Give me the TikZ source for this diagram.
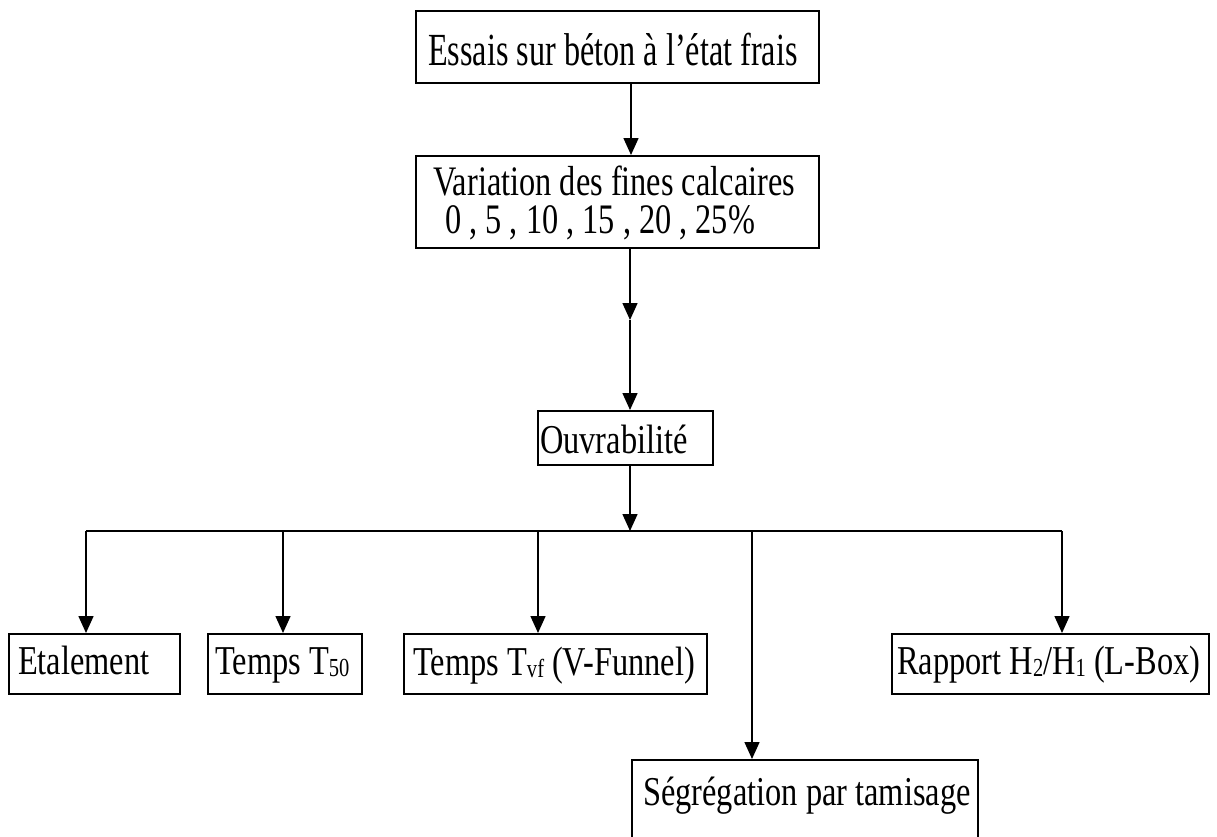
\documentclass[tikz,border=0pt]{standalone}
\usepackage{fontspec}
\newfontfamily\lowfont[FakeStretch=0.79]{Liberation Serif}
\newfontfamily\midfont[FakeStretch=0.77]{Liberation Serif}
\newfontfamily\highfont[FakeStretch=0.70]{Liberation Serif}
\usetikzlibrary{arrows.meta}

% small index set close to the baseline
\newcommand{\idx}[1]{\raisebox{-2pt}{\fontsize{26}{26}\selectfont #1}}

\tikzset{
  box/.style={draw, line width=1.5pt, inner sep=0pt, anchor=north west},
  lbl/.style={anchor=base west, inner sep=0pt, font=\lowfont\fontsize{41}{41}\selectfont},
  mlbl/.style={anchor=base west, inner sep=0pt, font=\midfont\fontsize{42}{42}\selectfont},
  hlbl/.style={anchor=base west, inner sep=0pt, font=\highfont\fontsize{46}{46}\selectfont},
  arr/.style={line width=1.5pt, -{Triangle[length=17pt,width=15pt]}},
  wire/.style={line width=1.5pt},
}

\begin{document}
\begin{tikzpicture}[x=1pt,y=-1pt]
\clip (0,0) rectangle (1217,836);
\fill[white] (0,0) rectangle (1217,836);

% boxes and their texts
\node[box, minimum width=403pt, minimum height=72pt] (top) at (415,10) {};
\node[hlbl] (toptxt) at (428,65) {Essais sur béton à l’état frais};

\node[box, minimum width=403pt, minimum height=92pt] (var) at (415,155) {};
\node[mlbl] (vartxt) at (433,195) {Variation des fines calcaires};
\node[mlbl] (pcttxt) at (445,233) {0 , 5 , 10 , 15 , 20 , 25\%};

\node[box, minimum width=175pt, minimum height=54pt] (ouv) at (537,410) {};
\node[lbl] (ouvtxt) at (540,453) {Ouvrabilité};

\node[box, minimum width=171pt, minimum height=60pt] (eta) at (8,633) {};
\node[lbl] (etatxt) at (18,674) {Etalement};

\node[box, minimum width=154pt, minimum height=60pt] (t50) at (207,633) {};
\node[lbl] (t50txt) at (215,674) {Temps T\idx{50}};

\node[box, minimum width=303pt, minimum height=60pt] (tvf) at (403,633) {};
\node[lbl] (tvftxt) at (413,675) {Temps T\idx{vf} (V-Funnel)};

\node[box, minimum width=317pt, minimum height=60pt] (rap) at (891,633) {};
\node[lbl] (raptxt) at (897,674) {Rapport H\idx{2}/H\idx{1} (L-Box)};

\node[box, minimum width=346pt, minimum height=100pt] (seg) at (631,759) {};
\node[lbl] (segtxt) at (643,805) {Ségrégation par tamisage};

% connector waypoints
\coordinate (c1) at (631,0);
\coordinate (mid) at (630,320);
\coordinate (bus) at (630,531);
\coordinate (b1) at (86,531);
\coordinate (b2) at (283,531);
\coordinate (b3) at (538,531);
\coordinate (b4) at (752,531);
\coordinate (b5) at (1062,531);

% main chain
\draw[arr] (top.south -| c1) -- (var.north -| c1);
\draw[arr] (var.south -| mid) -- (mid);
\draw[arr] (mid) -- (ouv.north -| mid);
\draw[arr] (ouv.south -| bus) -- (bus);

% distribution bus and branches
\draw[wire] (b1) -- (b5);
\draw[arr] (b1) -- (eta.north -| b1);
\draw[arr] (b2) -- (t50.north -| b2);
\draw[arr] (b3) -- (tvf.north -| b3);
\draw[arr] (b4) -- (seg.north -| b4);
\draw[arr] (b5) -- (rap.north -| b5);
\end{tikzpicture}
\end{document}
